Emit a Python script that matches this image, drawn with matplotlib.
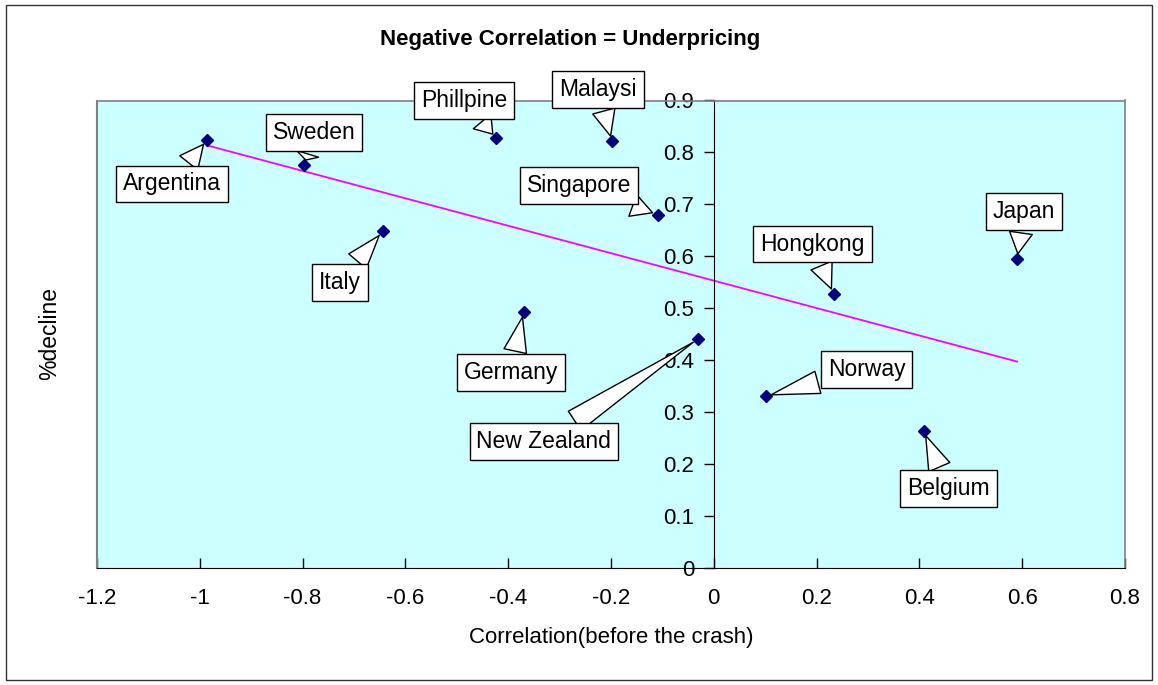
import matplotlib
matplotlib.use("Agg")
import matplotlib.pyplot as plt
from matplotlib.patches import Rectangle
from matplotlib.lines import Line2D
from matplotlib.ticker import FuncFormatter
import numpy as np

plt.rcParams['font.family'] = ['Liberation Sans', 'DejaVu Sans']
plt.rcParams['axes.unicode_minus'] = False

countries = ["Argentina", "Sweden", "Italy", "Phillpine", "Malaysi", "Singapore",
             "Germany", "New Zealand", "Hongkong", "Japan", "Norway", "Belgium"]
correlation = [-0.986, -0.797, -0.644, -0.423, -0.198, -0.109,
               -0.370, -0.031, 0.233, 0.590, 0.101, 0.408]
decline = [0.824, 0.775, 0.648, 0.827, 0.821, 0.680,
           0.493, 0.440, 0.527, 0.594, 0.330, 0.264]
x_ticks = [-1.2, -1, -0.8, -0.6, -0.4, -0.2, 0, 0.2, 0.4, 0.6, 0.8]
y_ticks = [0, 0.1, 0.2, 0.3, 0.4, 0.5, 0.6, 0.7, 0.8, 0.9]

# label offsets (pixels) of each callout box centre from its point
label_offsets = [(-35, -44), (10, 33), (-43, -51), (-32, 38), (-14, 52), (-79, 29),
                 (-13, -61), (-154, -102), (-21, 50), (7, 48), (101, 27), (25, -58)]

W, H = 1158, 685
fig = plt.figure(figsize=(W / 100, H / 100), dpi=100)
fig.patch.set_facecolor('white')
fig.add_artist(Rectangle((6 / W, 5 / H), (1152 - 6) / W, (680 - 5) / H,
                         transform=fig.transFigure, fill=False, ec='#333333', lw=1))

ax = fig.add_axes([97 / W, 1 - 567.5 / H, (1125 - 97) / W, (567.5 - 100.5) / H])
ax.set_facecolor('#CCFFFF')
ax.set_xlim(-1.2, 0.8)
ax.set_ylim(0, 0.9)

# spines
ax.spines['left'].set_position(('data', 0))
ax.spines['left'].set_color('black')
ax.spines['bottom'].set_color('black')
for s in ['top', 'right']:
    ax.spines[s].set_color('#808080')
    ax.spines[s].set_linewidth(1.2)
ax.add_line(Line2D([0, 0], [0, 1], transform=ax.transAxes, color='#808080', lw=1.5,
                   clip_on=False))

fmt = FuncFormatter(lambda v, p: ('%g' % round(v, 2)))
ax.set_xticks(x_ticks)
ax.set_yticks(y_ticks)
ax.xaxis.set_major_formatter(fmt)
ax.yaxis.set_major_formatter(fmt)
ax.tick_params(axis='x', direction='in', length=7, width=1, labelsize=16, pad=15)
ax.tick_params(axis='y', direction='out', length=7, width=1, labelsize=16, pad=7)

# trend line
coef = np.polyfit(correlation, decline, 1)
xs = np.array([min(correlation), max(correlation)])
ax.plot(xs, np.polyval(coef, xs), color='#FF00FF', lw=1.3, zorder=2)

ax.plot(correlation, decline, linestyle='none', marker='D', markersize=6.2,
        color='#000080', zorder=3)

for name, xv, yv, (dx, dy) in zip(countries, correlation, decline, label_offsets):
    ax.annotate(name, xy=(xv, yv), xytext=(dx, dy), textcoords='offset pixels',
                ha='center', va='center', fontsize=16.5, zorder=5,
                bbox=dict(boxstyle='square,pad=0.3', fc='white', ec='black', lw=1),
                arrowprops=dict(arrowstyle='wedge,tail_width=1.0', fc='white',
                                ec='black', lw=1, shrinkB=4))

ax.set_xlabel('Correlation(before the crash)', fontsize=16, labelpad=13)
fig.text(50 / W, 1 - 333 / H, '%decline', rotation=90, fontsize=16.5,
         ha='center', va='center')
fig.text(570 / W, 1 - 40 / H, 'Negative Correlation = Underpricing', fontsize=16,
         fontweight='bold', ha='center', va='center')

fig.savefig('out.png', dpi=100)
